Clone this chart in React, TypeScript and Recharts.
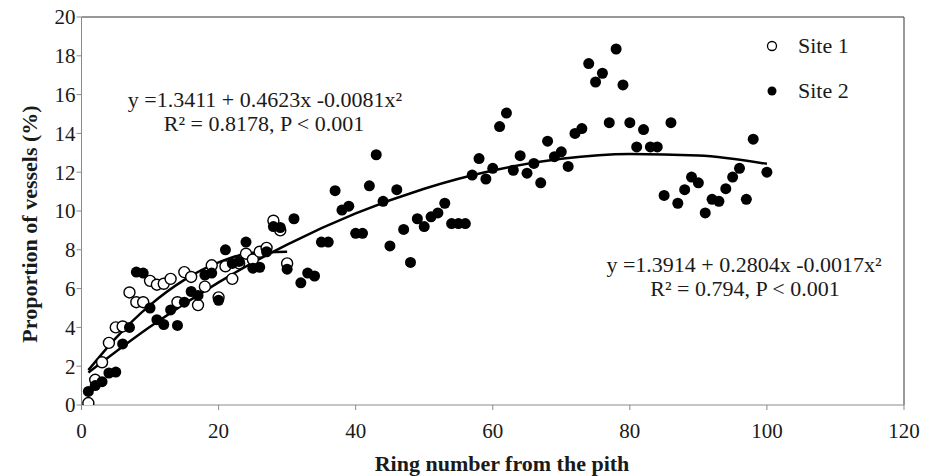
import React from "react";
import {
  ComposedChart,
  Scatter,
  Line,
  XAxis,
  YAxis,
  ReferenceLine,
} from "recharts";

// ring numbers / vessel proportion (%)
const site1Rings = [
  1, 2, 3, 4, 5, 6, 7, 8, 9, 10, 11, 12, 13, 14, 15, 16, 17, 18, 19, 20, 21,
  22, 23, 24, 25, 26, 27, 28, 29, 30,
];
const site1Values = [
  0.1, 1.3, 2.2, 3.2, 4.0, 4.05, 5.8, 5.3, 5.3, 6.4, 6.2, 6.25, 6.5, 5.3, 6.85,
  6.6, 5.15, 6.1, 7.2, 5.55, 7.15, 6.5, 7.3, 7.8, 7.5, 7.9, 8.1, 9.5, 9.0, 7.3,
];

const site2Rings = [
  1, 2, 3, 4, 5, 6, 7, 8, 9, 10, 11, 12, 13, 14, 15, 16, 17, 18, 19, 20, 21,
  22, 23, 24, 25, 26, 27, 28, 29, 30, 31, 32, 33, 34, 35, 36, 37, 38, 39, 40,
  41, 42, 43, 44, 45, 46, 47, 48, 49, 50, 51, 52, 53, 54, 55, 56, 57, 58, 59,
  60, 61, 62, 63, 64, 65, 66, 67, 68, 69, 70, 71, 72, 73, 74, 75, 76, 77, 78,
  79, 80, 81, 82, 83, 84, 85, 86, 87, 88, 89, 90, 91, 92, 93, 94, 95, 96, 97,
  98, 100,
];
const site2Values = [
  0.7, 1.0, 1.2, 1.65, 1.7, 3.15, 4.0, 6.85, 6.8, 5.0, 4.4, 4.15, 4.9, 4.1,
  5.3, 5.85, 5.65, 6.7, 6.8, 5.4, 8.0, 7.3, 7.4, 8.4, 7.05, 7.1, 7.9, 9.2,
  9.15, 7.0, 9.6, 6.3, 6.8, 6.65, 8.4, 8.4, 11.05, 10.05, 10.25, 8.85, 8.85,
  11.3, 12.9, 10.5, 8.2, 11.1, 9.05, 7.35, 9.6, 9.2, 9.7, 9.9, 10.4, 9.35,
  9.35, 9.35, 11.85, 12.7, 11.65, 12.2, 14.35, 15.05, 12.1, 12.85, 11.95,
  12.45, 11.45, 13.6, 12.8, 13.05, 12.3, 14.0, 14.25, 17.6, 16.65, 17.1, 14.55,
  18.35, 16.5, 14.55, 13.3, 14.2, 13.3, 13.3, 10.8, 14.55, 10.4, 11.1, 11.75,
  11.45, 9.9, 10.6, 10.5, 11.15, 11.75, 12.2, 10.6, 13.7, 12.0,
];

// trend curves
const fit1X = [1, 5, 10, 15, 20, 25, 30];
const fit1Y = [1.8, 3.45, 5.15, 6.45, 7.35, 7.85, 7.9];
const fit2X = [1, 10, 20, 30, 40, 50, 60, 70, 80, 90, 100];
const fit2Y = [1.67, 4.03, 6.32, 8.27, 9.88, 11.15, 12.09, 12.69, 12.94, 12.86, 12.43];

const xTicks = [0, 20, 40, 60, 80, 100, 120];
const yTicks = [0, 2, 4, 6, 8, 10, 12, 14, 16, 18, 20];

const SERIF = '"Liberation Serif", "Times New Roman", serif';
const INK = "#1a1a1a";

const zip = (xs: number[], ys: number[]) => xs.map((x, i) => ({ x, y: ys[i] }));

const site1 = zip(site1Rings, site1Values);
const site2 = zip(site2Rings, site2Values);
const fit1 = zip(fit1X, fit1Y);
const fit2 = zip(fit2X, fit2Y);

const OpenDot = (props: any) => (
  <circle cx={props.cx} cy={props.cy} r={5.5} fill="#fff" stroke="#000" strokeWidth={1.4} />
);
const FilledDot = (props: any) => (
  <circle cx={props.cx} cy={props.cy} r={5.5} fill="#000" />
);

const textStyle: React.CSSProperties = {
  position: "absolute",
  fontFamily: SERIF,
  fontSize: 22,
  lineHeight: "24px",
  color: INK,
  whiteSpace: "nowrap",
  textAlign: "center",
  width: 400,
};

function Note({ cx, cy, children }: { cx: number; cy: number; children: React.ReactNode }) {
  return <div style={{ ...textStyle, left: cx - 200, top: cy - 12 }}>{children}</div>;
}

export default function App() {
  const tick = { fontFamily: SERIF, fontSize: 21, fill: INK };
  return (
    <div
      style={{
        position: "absolute",
        left: 0,
        top: 0,
        width: 928,
        height: 476,
        background: "#fff",
      }}
    >
      <ComposedChart
        width={928}
        height={476}
        margin={{ top: 17, right: 24, bottom: 0, left: 0 }}
      >
        <XAxis
          dataKey="x"
          type="number"
          domain={[0, 120]}
          ticks={xTicks}
          allowDataOverflow
          height={71}
          tick={tick}
          tickSize={5}
          tickMargin={13}
          stroke="#8a8a8a"
        />
        <YAxis
          dataKey="y"
          type="number"
          domain={[0, 20]}
          ticks={yTicks}
          allowDataOverflow
          width={81.5}
          tick={tick}
          tickSize={5}
          tickMargin={1}
          stroke="#8a8a8a"
        />
        <ReferenceLine y={20} stroke="#333" strokeWidth={1.2} />
        <ReferenceLine x={120} stroke="#555" strokeWidth={1.2} />
        <Scatter
          name="Site 1"
          data={site1}
          dataKey="y"
          shape={OpenDot}
          isAnimationActive={false}
        />
        <Scatter
          name="Site 2"
          data={site2}
          dataKey="y"
          shape={FilledDot}
          isAnimationActive={false}
        />
        <Line
          data={fit1}
          dataKey="y"
          type="monotone"
          dot={false}
          stroke="#000"
          strokeWidth={2.5}
          isAnimationActive={false}
        />
        <Line
          data={fit2}
          dataKey="y"
          type="monotone"
          dot={false}
          stroke="#000"
          strokeWidth={2.5}
          isAnimationActive={false}
        />
      </ComposedChart>

      <Note cx={265} cy={100}>y =1.3411 + 0.4623x -0.0081x²</Note>
      <Note cx={264} cy={124}>R² = 0.8178, P &lt; 0.001</Note>
      <Note cx={744} cy={265}>y =1.3914 + 0.2804x -0.0017x²</Note>
      <Note cx={745} cy={289}>R² = 0.794, P &lt; 0.001</Note>

      {/* legend */}
      <svg style={{ position: "absolute", left: 760, top: 34 }} width={24} height={70}>
        <circle cx={12} cy={12} r={4.5} fill="#fff" stroke="#000" strokeWidth={1.3} />
        <circle cx={12} cy={57} r={4.5} fill="#000" />
      </svg>
      <div style={{ ...textStyle, textAlign: "left", left: 798, top: 34, width: 80 }}>Site 1</div>
      <div style={{ ...textStyle, textAlign: "left", left: 798, top: 79, width: 80 }}>Site 2</div>

      {/* axis titles */}
      <div style={{ ...textStyle, fontWeight: "bold", left: 302, top: 452 }}>
        Ring number from the pith
      </div>
      <div
        style={{
          ...textStyle,
          fontWeight: "bold",
          left: 30 - 200,
          top: 224 - 12,
          transform: "rotate(-90deg)",
        }}
      >
        Proportion of vessels (%)
      </div>
    </div>
  );
}
